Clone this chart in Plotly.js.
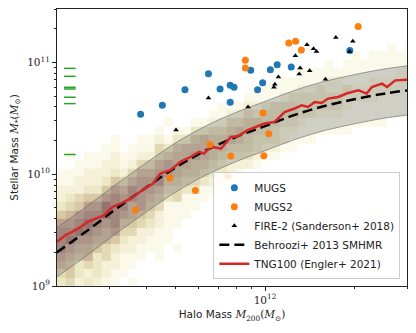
<!DOCTYPE html>
<html>
<head>
<meta charset="utf-8">
<script src="https://cdn.plot.ly/plotly-3.0.1.min.js"></script>
<style>
  html, body { margin: 0; padding: 0; background: white; }
  #smhm { width: 416px; height: 333px; }
</style>
</head>
<body>
<div id="smhm"></div>
<script>
// all masses are log10(M / Msun)

// MUGS
var mugsLogMh = [11.582, 11.655, 11.731, 11.810, 11.849, 11.883, 11.896, 11.883, 11.952, 11.975, 11.992, 12.018, 12.041, 12.088, 12.285];
var mugsLogMs = [10.536, 10.616, 10.756, 10.899, 10.762, 10.795, 10.777, 10.643, 10.929, 10.756, 10.817, 10.933, 10.978, 10.958, 11.105];

// MUGS2
var mugs2LogMh = [11.934, 11.934, 12.080, 12.103, 12.122, 12.313, 11.993, 12.013, 11.815, 11.885, 11.996, 11.876, 11.680, 11.766, 11.565];
var mugs2LogMs = [11.018, 10.949, 11.172, 11.188, 11.110, 11.320, 10.547, 10.362, 10.265, 10.163, 10.165, 9.982, 9.966, 9.855, 9.680];

// FIRE-2 (Sanderson+ 2018)
var fireLogMh = [12.238, 12.295, 12.141, 12.163, 12.173, 12.102, 12.284, 12.118, 12.150, 12.115, 12.045, 12.033, 12.030, 12.203, 11.810, 11.943, 11.701];
var fireLogMs = [11.223, 11.189, 11.158, 11.122, 11.098, 11.060, 11.098, 10.949, 10.924, 10.896, 10.869, 10.804, 10.777, 10.848, 10.681, 10.601, 10.396];

// stellar masses marked at the left edge (green ticks)
var obsLogMh = 11.344;
var obsLogMs = [10.946, 10.875, 10.777, 10.762, 10.688, 10.631, 10.176];

// Behroozi+ 2013 SMHMR and its scatter band
var smhmLogMh = [11.30, 11.40, 11.50, 11.60, 11.70, 11.80, 11.90, 12.00, 12.10, 12.20, 12.30, 12.40, 12.48];
var smhmLogMs = [9.30, 9.49, 9.69, 9.88, 10.06, 10.21, 10.33, 10.43, 10.53, 10.61, 10.67, 10.72, 10.75];
var bandHiLogMs = [9.52, 9.71, 9.91, 10.10, 10.28, 10.43, 10.55, 10.65, 10.75, 10.83, 10.89, 10.94, 10.97];
var bandLoLogMs = [9.08, 9.27, 9.47, 9.66, 9.84, 9.99, 10.11, 10.21, 10.31, 10.39, 10.45, 10.50, 10.53];

// TNG100 median (Engler+ 2021)
var tngLogMh = [11.301, 11.330, 11.353, 11.381, 11.404, 11.432, 11.460, 11.488, 11.516, 11.550, 11.573, 11.595, 11.624, 11.648,
  11.682, 11.716, 11.750, 11.778, 11.795, 11.818, 11.852, 11.885, 11.908, 11.942, 11.998, 12.032, 12.066, 12.099,
  12.122, 12.145, 12.167, 12.190, 12.212, 12.246, 12.274, 12.314, 12.342, 12.359, 12.393, 12.410, 12.438, 12.483];
var tngLogMs = [9.396, 9.455, 9.485, 9.529, 9.574, 9.604, 9.634, 9.708, 9.738, 9.783, 9.828, 9.872, 9.917, 10.006,
  10.036, 10.110, 10.154, 10.199, 10.185, 10.244, 10.229, 10.333, 10.339, 10.393, 10.453, 10.467, 10.556, 10.587,
  10.616, 10.601, 10.646, 10.637, 10.676, 10.690, 10.721, 10.750, 10.721, 10.780, 10.810, 10.780, 10.839, 10.846];

// TNG100 2d histogram, one string per row of bins (bottom row first), counts on a 0-9 scale
var histLogMh0 = 11.30, histBinMh = 0.03;
var histLogMs0 = 9.0, histBinMs = 0.075;
var histRows = [
  "3423211010 0000000000 0000000000 0000000000",
  "4532321100 0000000000 0000000000 0000000000",
  "6534322110 0000000000 0000000000 0000000000",
  "7656342111 0100000000 0000000000 0000000000",
  "8766543221 1101000000 0000000000 0000000000",
  "8977665322 1110000000 0000000000 0000000000",
  "8898767442 2110000000 0000000000 0000000000",
  "7789878554 3211000000 0000000000 0000000000",
  "5678898765 4211100000 0000000000 0000000000",
  "3457798867 5411110000 0000000000 0000000000",
  "2345578787 6534111000 0000000000 0000000000",
  "2223357687 7644331100 0000000000 0000000000",
  "1122235467 7855443221 0000000000 0000000000",
  "1112223246 6776554332 1000000000 0000000000",
  "0011122124 4676655432 2210000000 0000000000",
  "0101112112 2456676543 3321100000 0000000000",
  "0000011011 1435666554 4432211000 0000000000",
  "0000001001 1213356556 5433321110 0000000000",
  "0000000000 0101133445 6544322111 1110000000",
  "0000000000 0010011224 4554433211 1111111000",
  "0000000000 0000000112 2434444332 2211111111",
  "0000000000 0000000011 1223444333 3321111111",
  "0000000000 0000000000 0111123333 3322221111",
  "0000000000 0000000000 0001111223 2232222221",
  "0000000000 0000000000 0000011111 2211122222",
  "0000000000 0000000000 0000000111 1111111122",
  "0000000000 0000000000 0000000000 1011111111",
  "0000000000 0000000000 0000000000 0001011111",
  "0000000000 0000000000 0000000000 0000000101"
];

function toMass(logs) {
  return logs.map(function (v) { return Math.pow(10, v); });
}

var histZ = histRows.map(function (row) {
  return row.replace(/ /g, '').split('').map(function (c) { return c === '0' ? null : +c; });
});
var histXEdges = [], histYEdges = [];
for (var i = 0; i <= histZ[0].length; i++) histXEdges.push(Math.pow(10, histLogMh0 + i * histBinMh));
for (var j = 0; j <= histZ.length; j++) histYEdges.push(Math.pow(10, histLogMs0 + j * histBinMs));

var histTrace = {
  type: 'heatmap',
  x: histXEdges,
  y: histYEdges,
  z: histZ,
  zmin: 1,
  zmax: 9,
  colorscale: [
    [0, '#faf9ea'], [0.125, '#f4f1d8'], [0.25, '#ece7c4'], [0.375, '#e2d9b4'], [0.5, '#d8c8a4'],
    [0.625, '#cfb698'], [0.75, '#c4a08c'], [0.875, '#b4887a'], [1, '#a06e66']
  ],
  showscale: false,
  showlegend: false,
  hoverinfo: 'skip'
};

var bandLo = {
  x: toMass(smhmLogMh),
  y: toMass(bandLoLogMs),
  mode: 'lines',
  line: { color: 'rgba(100,100,100,0.6)', width: 1, shape: 'spline' },
  showlegend: false,
  hoverinfo: 'skip'
};

var bandHi = {
  x: toMass(smhmLogMh),
  y: toMass(bandHiLogMs),
  mode: 'lines',
  fill: 'tonexty',
  fillcolor: 'rgba(128,128,128,0.35)',
  line: { color: 'rgba(100,100,100,0.6)', width: 1, shape: 'spline' },
  showlegend: false,
  hoverinfo: 'skip'
};

var smhmTrace = {
  x: toMass(smhmLogMh),
  y: toMass(smhmLogMs),
  mode: 'lines',
  name: 'Behroozi+ 2013 SMHMR',
  legendrank: 4,
  line: { color: 'black', width: 2.5, dash: '10px,5px', shape: 'spline' }
};

var tngTrace = {
  x: toMass(tngLogMh),
  y: toMass(tngLogMs),
  mode: 'lines',
  name: 'TNG100 (Engler+ 2021)',
  legendrank: 5,
  line: { color: '#d62728', width: 2.5 }
};

var obsTrace = {
  x: obsLogMs.map(function () { return Math.pow(10, obsLogMh); }),
  y: toMass(obsLogMs),
  mode: 'markers',
  marker: { symbol: 'line-ew', size: 8.4, line: { color: '#2ca02c', width: 1.5 } },
  showlegend: false,
  hoverinfo: 'skip'
};

var mugsTrace = {
  x: toMass(mugsLogMh),
  y: toMass(mugsLogMs),
  mode: 'markers',
  name: 'MUGS',
  legendrank: 1,
  marker: { color: '#1f77b4', size: 7 }
};

var mugs2Trace = {
  x: toMass(mugs2LogMh),
  y: toMass(mugs2LogMs),
  mode: 'markers',
  name: 'MUGS2',
  legendrank: 2,
  marker: { color: '#ff7f0e', size: 7 }
};

var fireTrace = {
  x: toMass(fireLogMh),
  y: toMass(fireLogMs),
  mode: 'markers',
  name: 'FIRE-2 (Sanderson+ 2018)',
  legendrank: 3,
  marker: { color: 'black', symbol: 'triangle-up', size: 5 }
};

var xMinor = [3e11, 4e11, 5e11, 6e11, 7e11, 8e11, 9e11, 2e12, 3e12];
var yMinor = [];
[1e9, 1e10, 1e11].forEach(function (d) {
  for (var k = 2; k <= 9; k++) if (k * d <= 3e11) yMinor.push(k * d);
});

var serif = 'DejaVu Serif';

var layout = {
  width: 416,
  height: 333,
  margin: { l: 57, r: 9, t: 9, b: 47 },
  paper_bgcolor: 'white',
  plot_bgcolor: 'white',
  font: { family: 'DejaVu Sans', size: 10.5, color: '#222222' },
  showlegend: true,
  legend: {
    x: 0.981, y: 0.024, xanchor: 'right', yanchor: 'bottom',
    bgcolor: 'rgba(255,255,255,0.85)',
    bordercolor: '#cccccc',
    borderwidth: 1,
    itemwidth: 30,
    traceorder: 'normal',
    font: { family: 'DejaVu Sans', size: 10.5, color: '#222222' }
  },
  xaxis: {
    type: 'log',
    range: [Math.log10(2e11), Math.log10(3e12)],
    tickmode: 'array',
    tickvals: [1e12],
    ticktext: ['10<sup>12</sup>'],
    tickfont: { family: serif, size: 10.5 },
    ticks: 'outside', ticklen: 4, tickcolor: '#222222',
    minor: { tickvals: xMinor, ticks: 'outside', ticklen: 2, tickcolor: '#222222', showgrid: false },
    showline: true, linecolor: '#222222', linewidth: 1, mirror: true,
    showgrid: false, zeroline: false,
    title: {
      text: 'Halo Mass <span style="font-family:' + serif + '"><i>M</i><sub>200</sub>(<i>M</i><sub>⊙</sub>)</span>',
      font: { size: 10.5 },
      standoff: 6
    }
  },
  yaxis: {
    type: 'log',
    range: [9, Math.log10(3e11)],
    tickmode: 'array',
    tickvals: [1e9, 1e10, 1e11],
    ticktext: ['10<sup>9</sup>', '10<sup>10</sup>', '10<sup>11</sup>'],
    tickfont: { family: serif, size: 10.5 },
    ticks: 'outside', ticklen: 4, tickcolor: '#222222',
    minor: { tickvals: yMinor, ticks: 'outside', ticklen: 2, tickcolor: '#222222', showgrid: false },
    showline: true, linecolor: '#222222', linewidth: 1, mirror: true,
    showgrid: false, zeroline: false,
    title: {
      text: 'Stellar Mass <span style="font-family:' + serif + '"><i>M</i><sub>*</sub>(<i>M</i><sub>⊙</sub>)</span>',
      font: { size: 10.5 },
      standoff: 6
    }
  }
};

var data = [histTrace, bandLo, bandHi, smhmTrace, tngTrace, obsTrace, mugsTrace, mugs2Trace, fireTrace];

Plotly.newPlot('smhm', data, layout, { staticPlot: true, displayModeBar: false });
</script>
</body>
</html>
